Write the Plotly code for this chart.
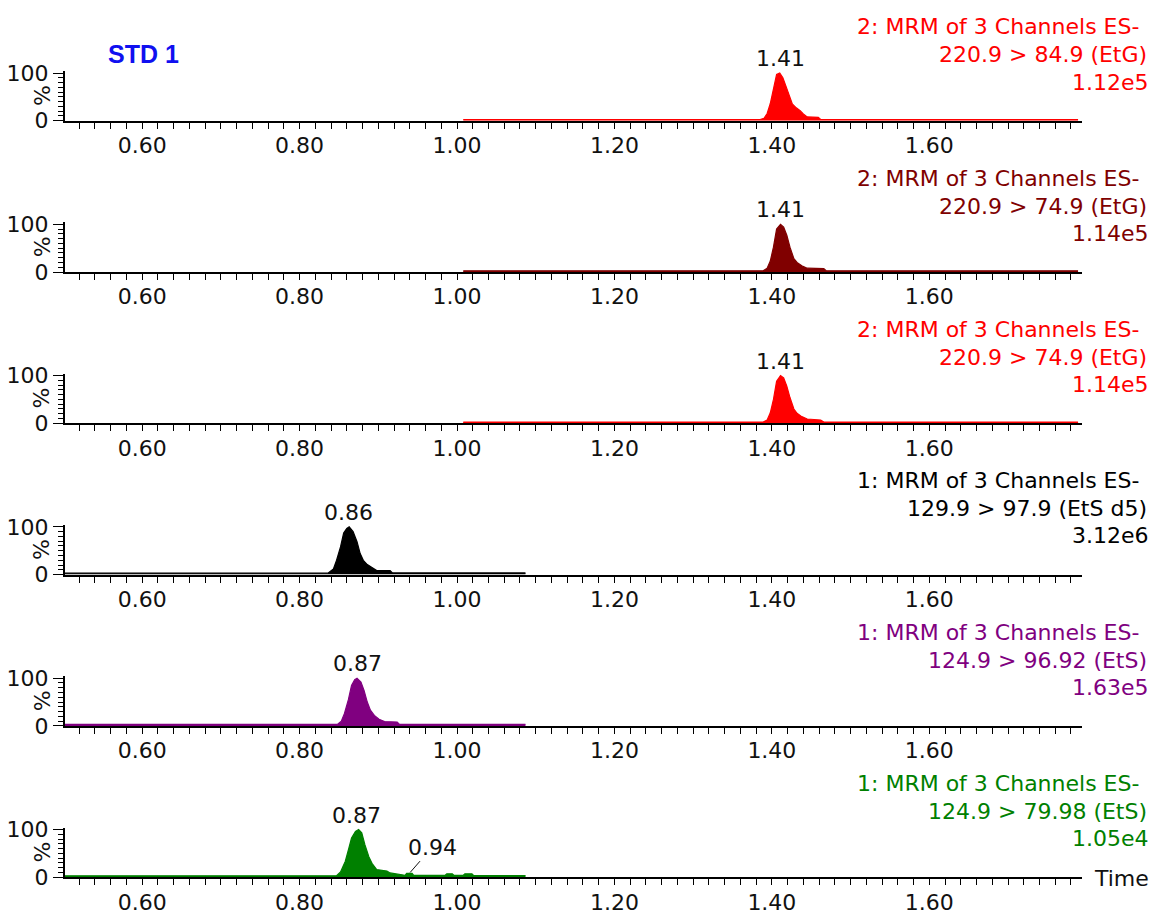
import plotly.graph_objects as go

# ---------------- data ----------------
# Panel 1: 220.9 > 84.9 (EtG)
t1 = [1.008, 1.385, 1.390, 1.394, 1.398, 1.402, 1.406, 1.410, 1.414, 1.418, 1.422,
      1.426, 1.431, 1.436, 1.440, 1.445, 1.459, 1.462, 1.789]
i1 = [2.5, 2.5, 5, 15, 36, 70, 97, 100, 90, 72, 52, 35, 27, 21, 14, 8, 7, 2.5, 2.5]

# Panel 2: 220.9 > 74.9 (EtG)
t2 = [1.008, 1.389, 1.394, 1.398, 1.402, 1.406, 1.411, 1.415, 1.419, 1.423, 1.428,
      1.432, 1.438, 1.445, 1.466, 1.469, 1.789]
i2 = [2.5, 2.5, 8, 23, 52, 90, 100, 94, 77, 52, 28, 20, 13, 8, 7, 2.5, 2.5]

# Panel 3: 220.9 > 74.9 (EtG)
t3 = [1.008, 1.389, 1.394, 1.398, 1.402, 1.406, 1.411, 1.415, 1.419, 1.423, 1.428,
      1.432, 1.438, 1.445, 1.462, 1.466, 1.789]
i3 = [2.5, 2.5, 7, 22, 50, 88, 100, 95, 78, 54, 30, 21, 14, 9, 7, 2.5, 2.5]

# Panel 4: 129.9 > 97.9 (EtS d5)
t4 = [0.502, 0.836, 0.843, 0.847, 0.852, 0.856, 0.860, 0.863, 0.868, 0.873, 0.877,
      0.881, 0.886, 0.892, 0.898, 0.915, 0.918, 1.087]
i4 = [3, 3, 12, 30, 58, 87, 97, 100, 90, 69, 44, 30, 21, 14, 8.5, 8.5, 3.5, 3.5]

# Panel 5: 124.9 > 96.92 (EtS)
t5 = [0.502, 0.848, 0.853, 0.857, 0.862, 0.866, 0.870, 0.873, 0.878, 0.882, 0.886,
      0.890, 0.895, 0.901, 0.908, 0.924, 0.927, 1.087]
i5 = [3, 3, 10, 26, 55, 85, 97, 100, 92, 74, 50, 33, 22, 14, 9, 8, 3, 3]

# Panel 6: 124.9 > 79.98 (EtS)
t6 = [0.502, 0.847, 0.852, 0.858, 0.862, 0.866, 0.871, 0.875, 0.879, 0.883, 0.888,
      0.892, 0.898, 0.902, 0.911, 0.915, 0.924, 0.934, 0.936, 0.943, 0.945, 0.985,
      0.987, 0.994, 0.996, 1.008, 1.010, 1.019, 1.021, 1.087]
i6 = [3, 3, 11, 33, 57, 82, 96, 100, 93, 68, 43, 29, 16, 15, 13, 9, 6, 4, 8, 8, 4,
      4, 7, 7, 4, 4, 7, 7, 3.5, 3.5]

series_t = [t1, t2, t3, t4, t5, t6]
series_i = [i1, i2, i3, i4, i5, i6]
colors = ["#ff0000", "#800000", "#ff0000", "#000000", "#800080", "#008000"]

header_1 = ["2: MRM of 3 Channels ES-", "2: MRM of 3 Channels ES-", "2: MRM of 3 Channels ES-",
            "1: MRM of 3 Channels ES-", "1: MRM of 3 Channels ES-", "1: MRM of 3 Channels ES-"]
header_2 = ["220.9 > 84.9 (EtG)", "220.9 > 74.9 (EtG)", "220.9 > 74.9 (EtG)",
            "129.9 > 97.9 (EtS d5)", "124.9 > 96.92 (EtS)", "124.9 > 79.98 (EtS)"]
header_3 = ["1.12e5", "1.14e5", "1.14e5", "3.12e6", "1.63e5", "1.05e4"]

peak_time = [1.4107, 1.4107, 1.4107, 0.8618, 0.873, 0.872]
peak_text = ["1.41", "1.41", "1.41", "0.86", "0.87", "0.87"]

minor_peak_time = 0.9405
minor_peak_text = "0.94"

x_tickvals = [0.6, 0.8, 1.0, 1.2, 1.4, 1.6]
x_ticktext = ["0.60", "0.80", "1.00", "1.20", "1.40", "1.60"]
x_long_ticks = [0.5, 0.6, 0.7, 0.8, 0.9, 1.0, 1.1, 1.2, 1.3, 1.4, 1.5, 1.6, 1.7]
y_tickvals = [0, 100]
y_ticktext = ["0", "100"]

# ---------------- layout geometry ----------------
W, H = 1158, 915
FONT = "DejaVu Sans"
FS = 22
X0_PX, X1_PX = 65, 1082
XR = [0.502, 1.794]
BASE0 = 120.7      # baseline of first panel (px)
STEP = 151.3       # panel spacing (px)
PX100 = 47.7       # px for 100 %
YR = [0, 104]

fig = go.Figure()
annotations = []

for k in range(6):
    n = "" if k == 0 else str(k + 1)
    no = str(k + 7)  # overlay axis carrying the long ticks
    base = BASE0 + STEP * k
    top = base - PX100 * YR[1] / 100.0
    fig.add_trace(go.Scatter(
        x=series_t[k], y=series_i[k], mode="lines",
        line=dict(color=colors[k], width=1.2),
        fill="tozeroy", fillcolor=colors[k],
        xaxis="x" + n, yaxis="y" + n, showlegend=False, hoverinfo="skip"))

    fig.layout["xaxis" + n] = dict(
        domain=[X0_PX / W, X1_PX / W], range=XR, anchor="y" + n, automargin=False,
        tickmode="array", tickvals=x_tickvals, ticktext=x_ticktext,
        ticks="outside", ticklen=4, tickwidth=1, tickcolor="black",
        minor=dict(tick0=0.5, dtick=0.02, ticks="outside", ticklen=6,
                   tickwidth=1, tickcolor="black"),
        showline=True, linecolor="black", linewidth=2,
        showgrid=False, zeroline=False,
        tickfont=dict(family=FONT, size=FS, color="#111"))
    fig.layout["xaxis" + no] = dict(
        overlaying="x" + n, range=XR, anchor="y" + n, automargin=False,
        tickmode="array", tickvals=x_long_ticks, showticklabels=False,
        ticks="outside", ticklen=11, tickwidth=1, tickcolor="black",
        showline=False, showgrid=False, zeroline=False, side="bottom")
    fig.layout["yaxis" + n] = dict(
        domain=[1 - base / H, 1 - top / H], range=YR, anchor="x" + n, automargin=False,
        tickmode="array", tickvals=y_tickvals, ticktext=y_ticktext,
        ticks="outside", ticklen=10, tickwidth=1, tickcolor="black",
        minor=dict(tick0=0, dtick=10, ticks="outside", ticklen=5,
                   tickwidth=1, tickcolor="black"),
        showline=True, linecolor="black", linewidth=2,
        showgrid=False, zeroline=False,
        tickfont=dict(family=FONT, size=FS, color="#111"))

    # header lines
    for txt, ypx, xr in [(header_1[k], 27, 1141), (header_2[k], 55, 1149), (header_3[k], 82, 1151)]:
        annotations.append(dict(
            text=txt, xref="paper", yref="paper", x=xr / W, y=1 - (ypx + STEP * k) / H,
            xanchor="right", yanchor="middle", showarrow=False,
            font=dict(family=FONT, size=FS, color=colors[k])))
    # % label
    annotations.append(dict(
        text="%", xref="paper", yref="paper", x=42 / W, y=1 - (96 + STEP * k) / H,
        xanchor="center", yanchor="middle", textangle=-90, showarrow=False,
        font=dict(family=FONT, size=FS, color="#111")))
    # peak label (x in data, y relative to the panel's domain)
    annotations.append(dict(
        text=peak_text[k], xref="x" + n, yref="y" + n + " domain", x=peak_time[k],
        y=130 / YR[1], xanchor="center", yanchor="middle", showarrow=False,
        font=dict(family=FONT, size=FS, color="#111")))

# minor peak label with leader line (bottom panel)
annotations.append(dict(
    text=minor_peak_text, xref="x6", yref="y6", x=minor_peak_time, y=10,
    axref="x6", ayref="y6", ax=0.9685, ay=63,
    showarrow=True, arrowhead=0, arrowwidth=1, arrowcolor="#111", standoff=0,
    font=dict(family=FONT, size=FS, color="#111")))

annotations.append(dict(
    text="<b>STD 1</b>", xref="paper", yref="paper", x=106 / W, y=1 - 54 / H,
    xanchor="left", yanchor="middle", showarrow=False,
    font=dict(family="Liberation Sans", size=25, color="#1010f0")))
annotations.append(dict(
    text="Time", xref="paper", yref="paper", x=1092 / W, y=1 - 878 / H,
    xanchor="left", yanchor="middle", showarrow=False,
    font=dict(family=FONT, size=FS, color="#111")))

fig.update_layout(
    width=W, height=H, margin=dict(l=0, r=0, t=0, b=0, autoexpand=False),
    paper_bgcolor="white", plot_bgcolor="white",
    annotations=annotations, showlegend=False)

fig.write_html("out.html")
